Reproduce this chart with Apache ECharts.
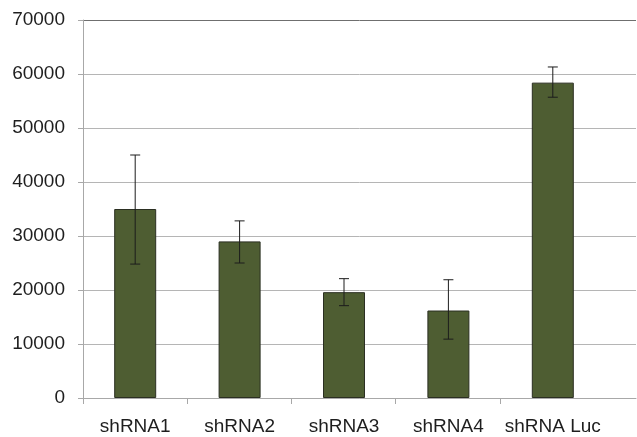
<!DOCTYPE html>
<html>
<head>
<meta charset="utf-8">
<script src="https://cdn.jsdelivr.net/npm/echarts@6/dist/echarts.min.js"></script>
<style>
html,body{margin:0;padding:0;background:#fff;}
#c{width:637px;height:437px;}
</style>
</head>
<body>
<div id="c"></div>
<script>
var categories = ['shRNA1', 'shRNA2', 'shRNA3', 'shRNA4', 'shRNA Luc'];
var values = [35000, 29000, 19600, 16200, 58400];
var errLow = [24800, 25000, 17100, 10900, 55700];
var errHigh = [45000, 32800, 22100, 21900, 61300];
var yTicks = [0, 10000, 20000, 30000, 40000, 50000, 60000, 70000];

var chart = echarts.init(document.getElementById('c'), null, {renderer: 'canvas'});
var font = 'Liberation Sans, Arial, sans-serif';
var gridColors = yTicks.map(function (v, i) { return i === yTicks.length - 1 ? '#6f6f6f' : '#b5b5b5'; });

var errData = categories.map(function (c, i) { return [i, errLow[i], errHigh[i]]; });

chart.setOption({
  animation: false,
  backgroundColor: '#ffffff',
  grid: [
    {left: 83, right: 32, top: 20, bottom: 39},
    {left: 83, right: 1, top: 20, bottom: 39}
  ],
  xAxis: [
    {
      type: 'category', gridIndex: 0, data: categories,
      axisLine: {show: false}, axisTick: {show: false},
      axisLabel: {interval: 0, fontFamily: font, fontSize: 19, color: '#1e1e1e', margin: 19}
    },
    {
      type: 'value', gridIndex: 1, min: 0, max: 554 / 104.4,
      axisLine: {show: true, lineStyle: {color: '#a8a8a8', width: 1}},
      axisTick: {show: true, length: 6, customValues: [0, 1, 2, 3, 4], lineStyle: {color: '#a8a8a8'}},
      axisLabel: {show: false},
      splitLine: {show: false}
    }
  ],
  yAxis: [
    {
      type: 'value', gridIndex: 0, min: yTicks[0], max: yTicks[yTicks.length - 1], interval: 10000,
      axisLine: {show: false}, axisTick: {show: false}, axisLabel: {show: false}, splitLine: {show: false}
    },
    {
      type: 'value', gridIndex: 1, min: yTicks[0], max: yTicks[yTicks.length - 1], interval: 10000,
      axisLine: {show: true, lineStyle: {color: '#a8a8a8', width: 1}},
      axisTick: {show: true, length: 5, lineStyle: {color: '#a8a8a8'}},
      axisLabel: {fontFamily: font, fontSize: 19, color: '#1e1e1e', margin: 18,
        formatter: function (v) { return String(v); }},
      splitLine: {show: true, lineStyle: {color: gridColors, width: 1}}
    }
  ],
  series: [
    {
      type: 'bar', xAxisIndex: 0, yAxisIndex: 0, data: values, barWidth: 42,
      itemStyle: {color: '#4e5d32', borderColor: '#2b2f22', borderWidth: 1},
      z: 3
    },
    {
      type: 'custom', xAxisIndex: 0, yAxisIndex: 0, data: errData, z: 5,
      renderItem: function (params, api) {
        var x = api.value(0);
        var lo = api.coord([x, api.value(1)]);
        var hi = api.coord([x, api.value(2)]);
        var hw = 5;
        var style = {stroke: '#1c1c1c', lineWidth: 1};
        return {
          type: 'group',
          children: [
            {type: 'line', shape: {x1: lo[0], y1: lo[1], x2: hi[0], y2: hi[1]}, style: style},
            {type: 'line', shape: {x1: lo[0] - hw, y1: lo[1], x2: lo[0] + hw, y2: lo[1]}, style: style},
            {type: 'line', shape: {x1: hi[0] - hw, y1: hi[1], x2: hi[0] + hw, y2: hi[1]}, style: style}
          ]
        };
      }
    }
  ]
});
</script>
</body>
</html>
